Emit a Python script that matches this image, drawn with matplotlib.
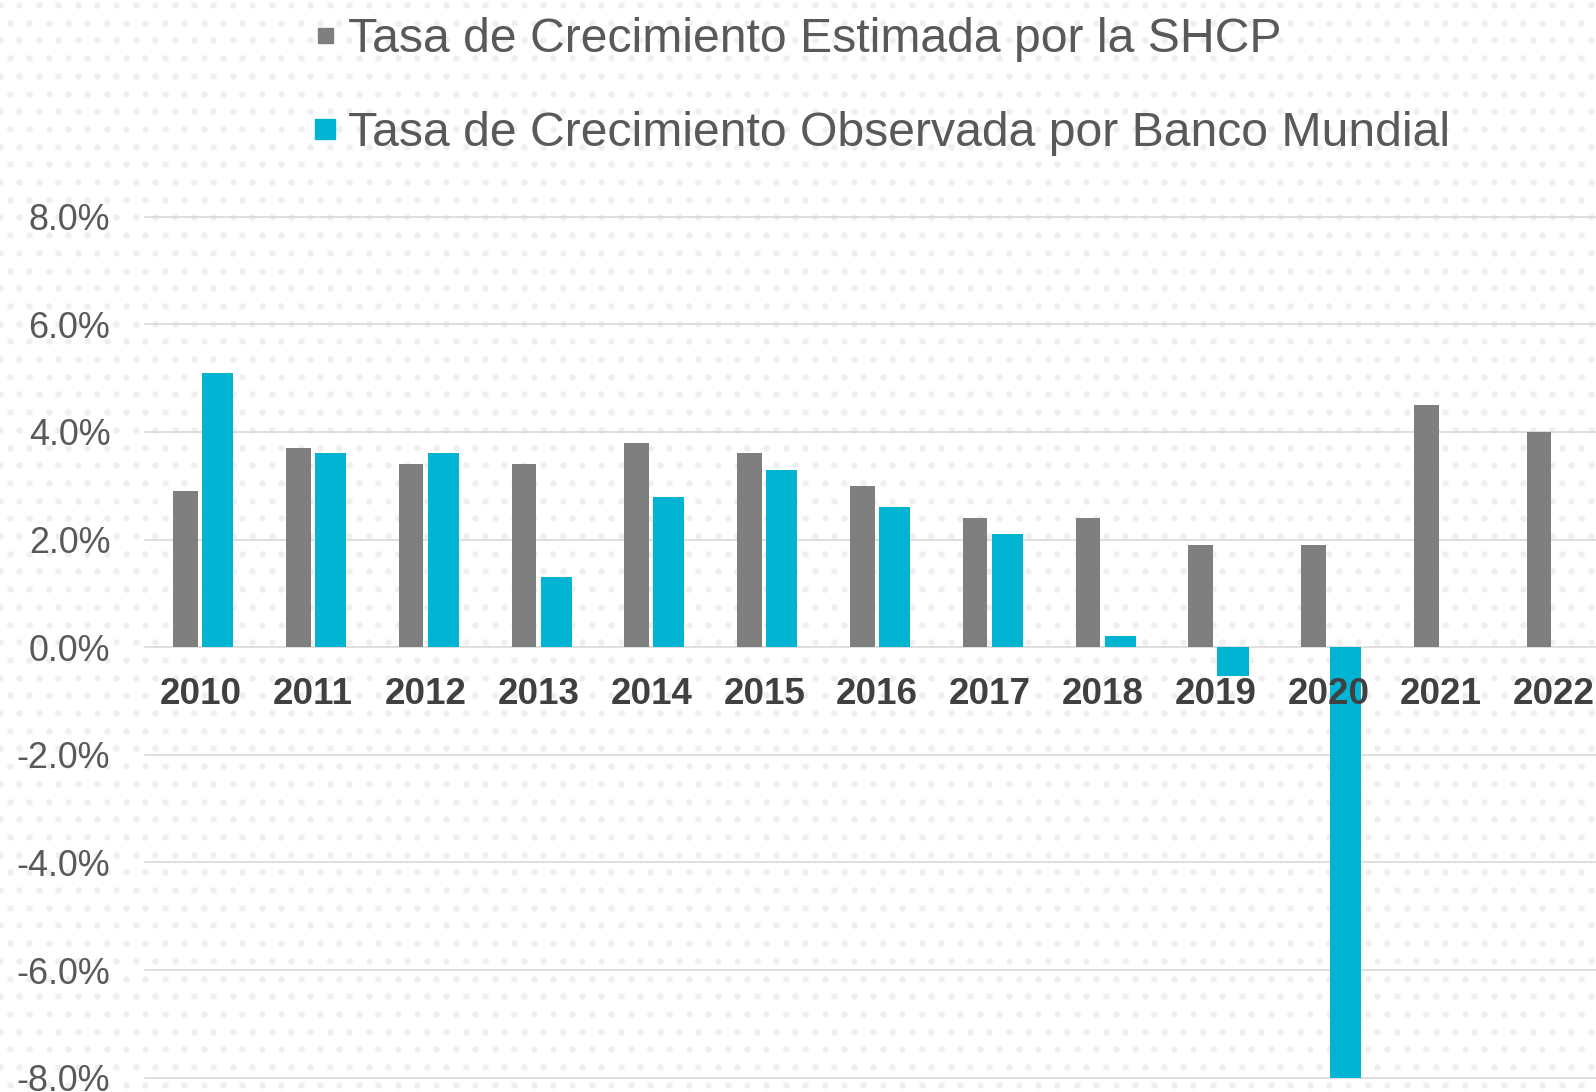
import numpy as np
import matplotlib.pyplot as plt
from matplotlib.lines import Line2D

# -------------------------------
# Data
# -------------------------------
years = ["2010", "2011", "2012", "2013", "2014", "2015", "2016",
         "2017", "2018", "2019", "2020", "2021", "2022"]
shcp = [2.9, 3.7, 3.4, 3.4, 3.8, 3.6, 3.0, 2.4, 2.4, 1.9, 1.9, 4.5, 4.0]
banco_mundial = [5.1, 3.6, 3.6, 1.3, 2.8, 3.3, 2.6, 2.1, 0.2, -0.54, -8.0,
                 np.nan, np.nan]
labels = ["Tasa de Crecimiento Estimada por la SHCP",
          "Tasa de Crecimiento Observada por Banco Mundial"]
colors = ["#7f7f7f", "#00b4d2"]

plt.rcParams['font.family'] = ['Liberation Sans', 'DejaVu Sans']

W, H = 1596, 1092
fig = plt.figure(figsize=(W / 100, H / 100), dpi=100)
fig.patch.set_facecolor("white")

# -------------------------------
# Dotted background
# -------------------------------
bg = fig.add_axes([0, 0, 1, 1], zorder=0)
bg.set_xlim(0, W)
bg.set_ylim(H, 0)
bg.axis("off")
gx = np.arange(0, W + 20, 19.4)
gy = np.arange(5, H + 20, 17.7)
dx, dy = [], []
for k, yy in enumerate(gy):
    off = 9.7 if k % 2 else 0
    dx.extend(gx + off)
    dy.extend([yy] * len(gx))
bg.scatter(dx, dy, s=22, color="#efefef", linewidths=0)

# -------------------------------
# Bars
# -------------------------------
ax = fig.add_axes([145 / W, 0, 1 - 145 / W, (H - 216.7) / H], zorder=1)
ax.patch.set_alpha(0)
x = np.arange(len(years))
ax.bar(x - 0.131, shcp, width=0.217, color=colors[0], zorder=2)
ax.bar(x + 0.155, banco_mundial, width=0.275, color=colors[1], zorder=2)

ax.set_xlim(-0.490, 12.373)
ax.set_ylim(-8.265, 8.0)
yt = np.arange(-8, 9, 2)
ax.set_yticks(yt)
ax.set_yticklabels([f"{v:.1f}%" for v in yt])
ax.tick_params(axis="y", length=0, pad=25, labelsize=25.8, labelcolor="#595959")
ax.set_xticks([])
ax.set_axisbelow(True)
ax.yaxis.grid(True, color="#d9d9d9", linewidth=1.2)
for s in ax.spines.values():
    s.set_visible(False)
for gl in ax.get_ygridlines():
    gl.set_clip_on(False)

for i, yr in enumerate(years):
    ax.annotate(yr, (i, 0), xytext=(0, -34), textcoords="offset points",
                ha="center", va="center", fontsize=26.5, fontweight="bold",
                color="#404040", zorder=5)

# -------------------------------
# Legend (one entry per row)
# -------------------------------
marker_sizes = [10.8, 14.4]
rows_y = [39, 133]
for lab, col, ms, ry in zip(labels, colors, marker_sizes, rows_y):
    h = Line2D([], [], marker="s", linestyle="none", color=col, markersize=ms)
    fig.legend([h], [lab], loc="center left",
               bbox_to_anchor=(315.3 / W, 1 - ry / H), frameon=False,
               fontsize=34.7, labelcolor="#595959", handlelength=0.4,
               handletextpad=0.27, borderpad=0, borderaxespad=0)

fig.savefig("out.png", dpi=100)
